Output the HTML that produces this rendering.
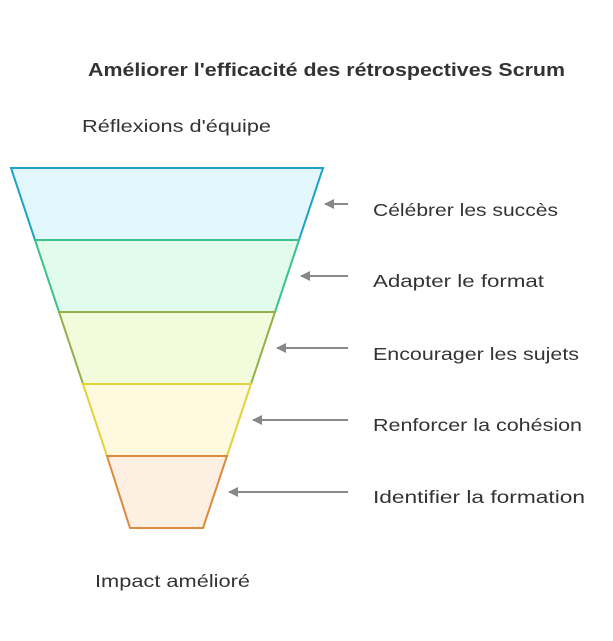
<!DOCTYPE html>
<html><head><meta charset="utf-8"><style>
body{margin:0;background:#fff;}
svg text{font-family:"Liberation Sans","DejaVu Sans",sans-serif;fill:#333;font-size:17.5px;}
</style></head><body>
<svg width="613" height="636" xmlns="http://www.w3.org/2000/svg">
<defs><marker id="a" markerWidth="12" markerHeight="10" refX="9" refY="5" orient="auto" markerUnits="userSpaceOnUse"><path d="M0,0 L10,5 L0,10 z" fill="#888"/></marker></defs>
<text x="88" y="76" font-weight="bold" textLength="477" lengthAdjust="spacingAndGlyphs" style="font-size:18px">Améliorer l'efficacité des rétrospectives Scrum</text>
<text x="82" y="132" textLength="189" lengthAdjust="spacingAndGlyphs">Réflexions d'équipe</text>
<text x="95" y="587" textLength="155" lengthAdjust="spacingAndGlyphs">Impact amélioré</text>
<polygon points="11,168 323,168 299,240 35,240" fill="#e2f8fd" stroke="#1fa2c9" stroke-width="2"/>
<polygon points="35,240 299,240 275,312 59,312" fill="#e1fbec" stroke="#3cc08c" stroke-width="2"/>
<polygon points="59,312 275,312 251,384 83,384" fill="#f2fcdc" stroke="#93b047" stroke-width="2"/>
<polygon points="83,384 251,384 227,456 107,456" fill="#fef9df" stroke="#e2d23c" stroke-width="2"/>
<polygon points="107,456 227,456 203,528 130,528" fill="#fdf0e3" stroke="#dc8a3d" stroke-width="2"/>
<g stroke="#888" stroke-width="2">
<line x1="348" y1="204" x2="325" y2="204" marker-end="url(#a)"/>
<line x1="348" y1="276" x2="301" y2="276" marker-end="url(#a)"/>
<line x1="348" y1="348" x2="277" y2="348" marker-end="url(#a)"/>
<line x1="348" y1="420" x2="253" y2="420" marker-end="url(#a)"/>
<line x1="348" y1="492" x2="229" y2="492" marker-end="url(#a)"/>
</g>
<text x="373" y="216" textLength="185" lengthAdjust="spacingAndGlyphs">Célébrer les succès</text>
<text x="373" y="287" textLength="171" lengthAdjust="spacingAndGlyphs">Adapter le format</text>
<text x="373" y="360" textLength="206" lengthAdjust="spacingAndGlyphs">Encourager les sujets</text>
<text x="373" y="431" textLength="209" lengthAdjust="spacingAndGlyphs">Renforcer la cohésion</text>
<text x="373" y="503" textLength="212" lengthAdjust="spacingAndGlyphs">Identifier la formation</text>
</svg>
</body></html>
